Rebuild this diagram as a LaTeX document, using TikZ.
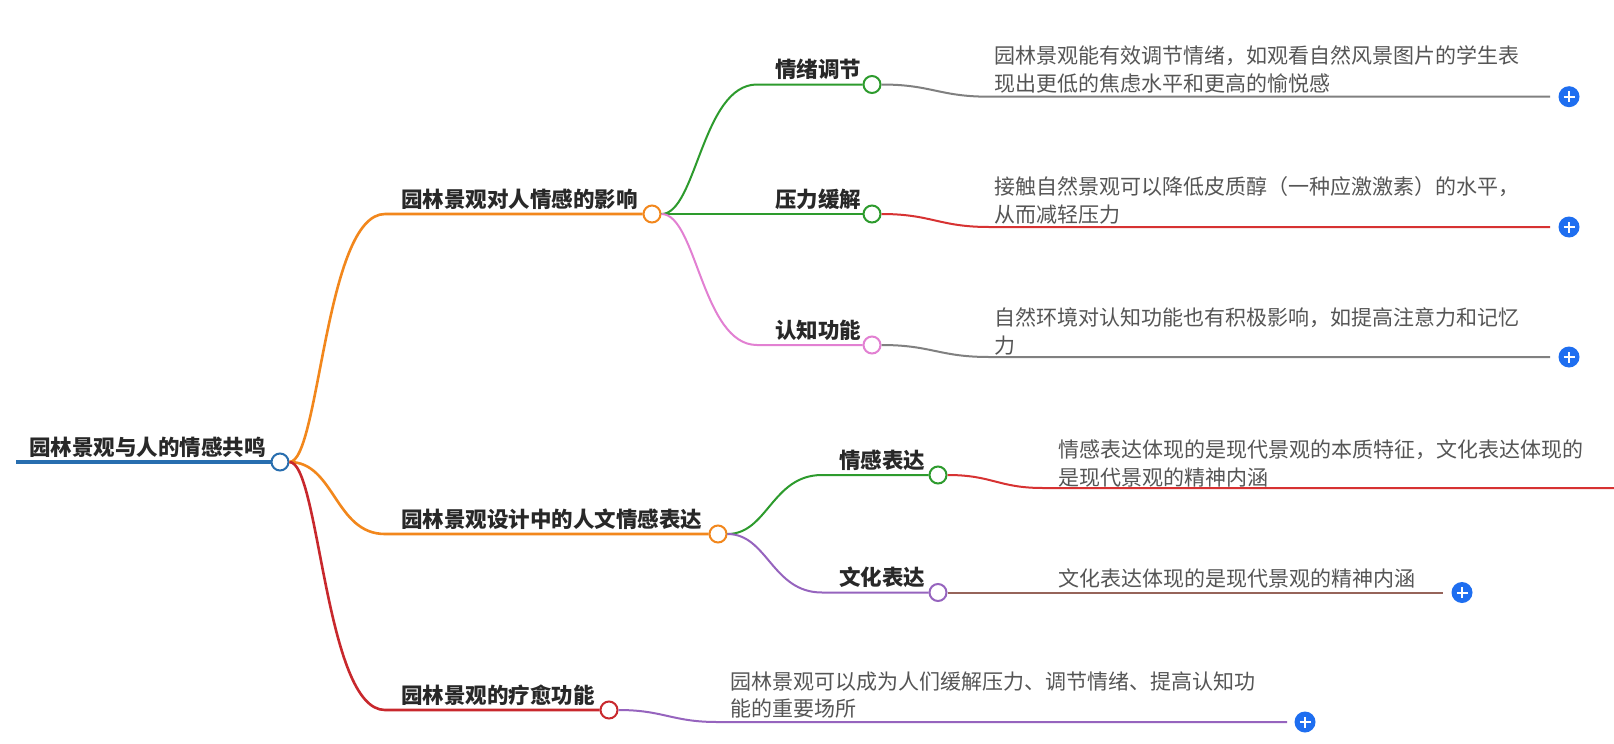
\documentclass[tikz,border=0pt]{standalone}
\usepackage{fontspec}
\setmainfont{Noto Sans CJK SC}
\definecolor{rootc}{RGB}{40,110,175}
\definecolor{orangec}{RGB}{242,135,28}
\definecolor{redc}{RGB}{200,40,45}
\definecolor{greenc}{RGB}{45,155,45}
\definecolor{pinkc}{RGB}{226,128,210}
\definecolor{purplec}{RGB}{150,100,190}
\definecolor{greyc}{RGB}{128,128,128}
\definecolor{leafred}{RGB}{215,50,50}
\definecolor{brownc}{RGB}{150,100,90}
\definecolor{plusc}{RGB}{30,110,240}
\definecolor{labelc}{RGB}{40,40,40}
\definecolor{leafc}{RGB}{85,85,85}
\begin{document}
\begin{tikzpicture}[x=1pt,y=-1pt,
  lbl/.style={font=\fontsize{21.5}{27}\selectfont\bfseries, text=labelc, inner sep=0pt, anchor=west},
  leaf/.style={font=\fontsize{21}{28}\selectfont, text=leafc, inner sep=0pt, anchor=west, align=left},
  dot/.style={circle, draw=#1, fill=white, line width=2pt, minimum size=17pt, inner sep=0pt},
  plusbtn/.style={circle, fill=plusc, minimum size=21pt, inner sep=0pt,
    path picture={\draw[white,line width=2pt] (path picture bounding box.center) ++(-5.5pt,0) -- ++(11pt,0)
      (path picture bounding box.center) ++(0,-5.5pt) -- ++(0,11pt);}},
  lvlone/.style={line width=2.6pt},
  lvltwo/.style={line width=2pt},
  lvlleaf/.style={line width=2pt},
]
\fill[white] (0,0) rectangle (1614,744);
\useasboundingbox (0,0) rectangle (1614,744);

% root
\node[dot=rootc] (root) at (280,462) {};
\node[lbl] (roott) at (29,447) {园林景观与人的情感共鸣};
\coordinate (rootl) at (16,462);

% level 1
\node[dot=orangec] (a) at (652,214) {};
\node[lbl] (at) at (401,199) {园林景观对人情感的影响};
\node[dot=orangec] (b) at (718,534) {};
\node[lbl] (bt) at (401,519) {园林景观设计中的人文情感表达};
\node[dot=redc] (c) at (609,710) {};
\node[lbl] (ct) at (401,695) {园林景观的疗愈功能};
\coordinate (ae) at (385,214);
\coordinate (be) at (385,534);
\coordinate (ce) at (385,710);

% level 2
\node[dot=greenc] (a1) at (872,84.5) {};
\node[lbl] (a1t) at (775,69.5) {情绪调节};
\node[dot=greenc] (a2) at (872,214) {};
\node[lbl] (a2t) at (775,199) {压力缓解};
\node[dot=pinkc] (a3) at (872,345) {};
\node[lbl] (a3t) at (775,330) {认知功能};
\node[dot=greenc] (b1) at (938,475) {};
\node[lbl] (b1t) at (839,460) {情感表达};
\node[dot=purplec] (b2) at (938,592.5) {};
\node[lbl] (b2t) at (839,577.5) {文化表达};
\coordinate (a1e) at (757,84.5);
\coordinate (a3e) at (757,345);
\coordinate (b1e) at (822,475);
\coordinate (b2e) at (822,592.5);

% leaves
\node[leaf] (l1) at (994,69.5) {园林景观能有效调节情绪，如观看自然风景图片的学生表\\现出更低的焦虑水平和更高的愉悦感};
\node[leaf] (l2) at (994,200.5) {接触自然景观可以降低皮质醇（一种应激激素）的水平，\\从而减轻压力};
\node[leaf] (l3) at (994,331) {自然环境对认知功能也有积极影响，如提高注意力和记忆\\力};
\node[leaf] (l4) at (1058,463) {情感表达体现的是现代景观的本质特征，文化表达体现的\\是现代景观的精神内涵};
\node[leaf] (l5) at (1058,578) {文化表达体现的是现代景观的精神内涵};
\node[leaf] (l6) at (730,695) {园林景观可以成为人们缓解压力、调节情绪、提高认知功\\能的重要场所};

\coordinate (l1s) at (989,96.7);  \coordinate (l1e) at (1550,96.7);
\coordinate (l2s) at (989,227);   \coordinate (l2e) at (1550,227);
\coordinate (l3s) at (989,357);   \coordinate (l3e) at (1550,357);
\coordinate (l4s) at (1043,488);  \coordinate (l4e) at (1614,488);
\coordinate (l5e) at (1443,592.5);
\coordinate (l6s) at (717,722);   \coordinate (l6e) at (1287,722);

\node[plusbtn] (p1) at (1569,96.7) {};
\node[plusbtn] (p2) at (1569,227) {};
\node[plusbtn] (p3) at (1569,357) {};
\node[plusbtn] (p5) at (1462,592.5) {};
\node[plusbtn] (p6) at (1305,722) {};

% connectors
\draw[rootc, line width=4.5pt] (rootl) -- (root.west);
\draw[orangec, lvlone] (root.east) .. controls +(30,0) and +(-60,0) .. (ae) -- (a.west);
\draw[orangec, lvlone] (root.east) .. controls +(45,0) and +(-50,0) .. (be) -- (b.west);
\draw[redc, lvlone] (root.east) .. controls +(30,0) and +(-60,0) .. (ce) -- (c.west);

\draw[greenc, lvltwo] (a.east) .. controls +(35,0) and +(-55,0) .. (a1e) -- (a1.west);
\draw[greenc, lvltwo] (a.east) -- (a2.west);
\draw[pinkc, lvltwo] (a.east) .. controls +(35,0) and +(-55,0) .. (a3e) -- (a3.west);
\draw[greenc, lvltwo] (b.east) .. controls +(40,0) and +(-50,0) .. (b1e) -- (b1.west);
\draw[purplec, lvltwo] (b.east) .. controls +(40,0) and +(-50,0) .. (b2e) -- (b2.west);

\draw[greyc, lvlleaf] (a1.east) .. controls +(50,0) and +(-50,0) .. (l1s) -- (l1e);
\draw[leafred, lvlleaf] (a2.east) .. controls +(50,0) and +(-50,0) .. (l2s) -- (l2e);
\draw[greyc, lvlleaf] (a3.east) .. controls +(50,0) and +(-50,0) .. (l3s) -- (l3e);
\draw[leafred, lvlleaf] (b1.east) .. controls +(45,0) and +(-45,0) .. (l4s) -- (l4e);
\draw[brownc, lvlleaf] (b2.east) -- (l5e);
\draw[purplec, lvlleaf] (c.east) .. controls +(45,0) and +(-45,0) .. (l6s) -- (l6e);
\end{tikzpicture}
\end{document}
